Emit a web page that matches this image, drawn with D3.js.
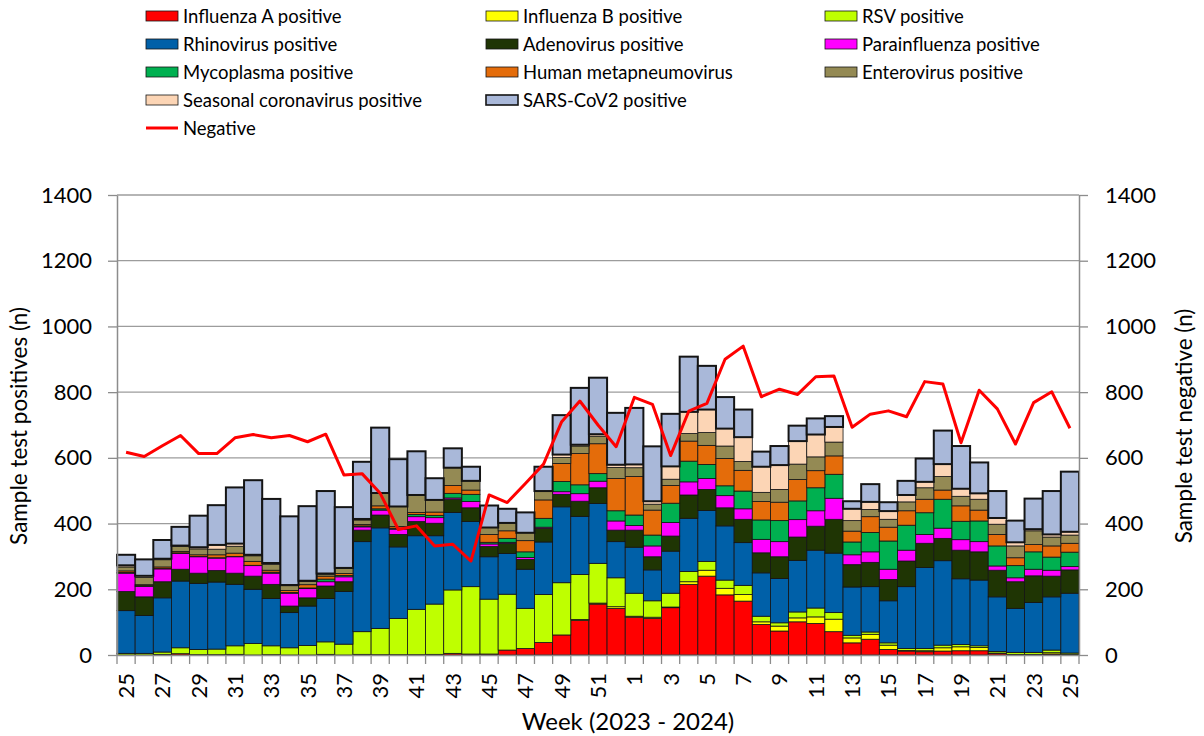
<!DOCTYPE html>
<html>
<head>
<meta charset="utf-8">
<script src="https://cdn.jsdelivr.net/npm/d3@7"></script>
<style>
  body { margin: 0; background: #fff; }
  text { font-family: Lato, "Open Sans", sans-serif; fill: #000; }
</style>
</head>
<body>
<script>
// week labels (2023 wk 25 .. 2024 wk 25)
const weeks = [25, 26, 27, 28, 29, 30, 31, 32, 33, 34, 35, 36, 37, 38, 39, 40, 41, 42, 43, 44,
  45, 46, 47, 48, 49, 50, 51, 52, 1, 2, 3, 4, 5, 6, 7, 8, 9, 10, 11, 12, 13, 14, 15, 16, 17,
  18, 19, 20, 21, 22, 23, 24, 25];

// positives per week, one array per pathogen
const fluA = [0, 0, 2, 4, 1, 1, 2, 0, 1, 0, 0, 2, 0, 2, 1, 1, 1, 2, 5, 3, 3, 15, 20, 38, 61, 105,
  155, 142, 115, 111, 144, 215, 240, 183, 164, 93, 73, 101, 96, 71, 37, 48, 17, 12, 10, 12, 13, 13,
  5, 2, 2, 3, 2];
const fluB = [0, 0, 0, 0, 0, 0, 0, 0, 0, 0, 0, 0, 0, 0, 0, 0, 0, 0, 0, 0, 0, 0, 0, 0, 0, 3,
  3, 5, 3, 4, 2, 8, 18, 20, 20, 8, 15, 12, 20, 38, 15, 15, 13, 2, 3, 10, 12, 10, 1, 0, 0, 4, 0];
const rsv = [5, 5, 7, 18, 16, 17, 26, 35, 27, 22, 29, 38, 33, 69, 80, 110, 138, 153, 193, 205, 167,
  170, 122, 146, 159, 137, 121, 88, 70, 50, 42, 31, 27, 25, 28, 17, 10, 18, 27, 20, 8, 7, 7, 6, 7,
  8, 7, 5, 5, 6, 6, 8, 4];
const rhino = [130, 115, 165, 203, 201, 204, 187, 165, 144, 107, 120, 132, 160, 274, 306, 218, 224,
  208, 236, 198, 129, 124, 119, 160, 231, 177, 182, 110, 140, 94, 128, 162, 155, 165, 130, 132, 135,
  157, 176, 181, 147, 138, 128, 188, 246, 257, 200, 200, 166, 134, 152, 162, 182];
const adeno = [58, 57, 49, 36, 31, 35, 34, 40, 43, 20, 25, 38, 30, 35, 39, 38, 43, 38, 40, 42, 31,
  31, 30, 41, 38, 46, 48, 35, 52, 40, 46, 71, 64, 55, 71, 61, 66, 71, 73, 103, 68, 74, 65, 78, 74,
  68, 87, 86, 81, 81, 81, 63, 71];
const para = [56, 32, 39, 48, 50, 38, 50, 32, 34, 39, 28, 13, 15, 10, 15, 16, 15, 17, 4, 19, 8, 3,
  6, 4, 8, 23, 20, 28, 14, 33, 41, 40, 33, 37, 32, 41, 46, 53, 47, 64, 30, 32, 31, 33, 27, 31, 32,
  31, 13, 12, 20, 18, 10];
const myco = [2, 2, 1, 2, 1, 1, 1, 1, 3, 2, 2, 8, 4, 3, 4, 3, 7, 7, 14, 22, 5, 12, 17, 27, 31, 27,
  23, 31, 32, 33, 59, 63, 43, 30, 54, 59, 64, 57, 70, 73, 39, 59, 86, 76, 66, 88, 56, 63, 61, 37,
  53, 40, 44];
const hmpv = [5, 3, 5, 4, 5, 9, 10, 12, 6, 6, 10, 9, 6, 4, 9, 5, 6, 10, 24, 13, 24, 23, 34, 56, 55,
  95, 91, 98, 117, 76, 54, 61, 58, 83, 63, 56, 56, 65, 52, 56, 33, 48, 42, 44, 41, 28, 47, 33, 35,
  24, 22, 34, 27];
const entero = [12, 22, 22, 15, 18, 17, 21, 17, 18, 15, 10, 6, 15, 14, 38, 61, 53, 37, 54, 28, 21,
  24, 24, 27, 18, 23, 23, 34, 27, 18, 19, 23, 39, 38, 27, 28, 39, 47, 42, 42, 32, 22, 24, 27, 35,
  41, 29, 33, 31, 36, 42, 27, 25];
const corona = [5, 5, 3, 3, 5, 13, 8, 3, 4, 2, 2, 2, 2, 3, 1, 0, 0, 0, 0, 0, 0, 0, 0, 0, 9, 4, 6,
  8, 10, 9, 39, 66, 70, 53, 74, 78, 74, 70, 68, 46, 36, 23, 25, 21, 18, 38, 23, 18, 19, 11, 5, 8, 10];
const sars = [32, 50, 57, 57, 96, 121, 171, 227, 195, 209, 227, 251, 185, 174, 199, 144, 133, 66,
  59, 43, 67, 43, 62, 74, 120, 173, 172, 158, 172, 167, 160, 168, 133, 96, 84, 46, 58, 47, 49, 33,
  23, 54, 27, 43, 71, 102, 130, 94, 82, 66, 93, 132, 183];

// negatives per week (right axis)
const negative = [617, 604, 637, 668, 613, 613, 661, 671, 661, 668, 649, 672, 548, 552, 492, 382,
  393, 332, 337, 286, 487, 464, 522, 581, 710, 773, 700, 634, 784, 763, 607, 742, 766, 900, 940,
  786, 809, 793, 847, 849, 693, 733, 743, 725, 832, 825, 646, 806, 749, 642, 768, 801, 690];

const yTicks = [0, 200, 400, 600, 800, 1000, 1200, 1400];

// series definitions, bottom to top of the stack
const series = [
  { key: "fluA", label: "Influenza A positive", values: fluA, color: "#FF0000" },
  { key: "fluB", label: "Influenza B positive", values: fluB, color: "#FFFF00" },
  { key: "rsv", label: "RSV positive", values: rsv, color: "#BFFF00" },
  { key: "rhino", label: "Rhinovirus positive", values: rhino, color: "#0060A8" },
  { key: "adeno", label: "Adenovirus positive", values: adeno, color: "#1F3504" },
  { key: "para", label: "Parainfluenza positive", values: para, color: "#FF00FF" },
  { key: "myco", label: "Mycoplasma positive", values: myco, color: "#00B050" },
  { key: "hmpv", label: "Human metapneumovirus", values: hmpv, color: "#E46C0A" },
  { key: "entero", label: "Enterovirus positive", values: entero, color: "#948A54" },
  { key: "corona", label: "Seasonal coronavirus positive", values: corona, color: "#FCD5B5" },
  { key: "sars", label: "SARS-CoV2 positive", values: sars, color: "#A9B8D9" }
];

// build table for d3.stack
const table = weeks.map((w, i) => {
  const row = { idx: i };
  series.forEach((s) => { row[s.key] = s.values[i]; });
  return row;
});

const width = 1204;
const height = 736;
const plotLeft = 117, plotRight = 1079, plotTop = 195, plotBottom = 655;

const svg = d3.select("body")
  .append("svg")
  .attr("width", width)
  .attr("height", height);

svg.append("rect")
  .attr("width", width)
  .attr("height", height)
  .style("fill", "#fff");

const x = d3.scaleBand()
  .domain(d3.range(weeks.length))
  .range([plotLeft, plotRight])
  .padding(0);

const y = d3.scaleLinear()
  .domain([0, 1400])
  .range([plotBottom, plotTop]);

const yNeg = d3.scaleLinear()
  .domain([0, 1400])
  .range([plotBottom, plotTop]);

// gridlines
svg.append("g")
  .selectAll("line")
  .data(yTicks.slice(1))
  .enter()
  .append("line")
  .attr("x1", plotLeft)
  .attr("x2", plotRight)
  .attr("y1", (d) => y(d))
  .attr("y2", (d) => y(d))
  .style("stroke", "#9c9c9c")
  .style("stroke-width", 1.3);

// stacked bars
const stack = d3.stack().keys(series.map((s) => s.key));
const layers = stack(table);

const layerG = svg.append("g")
  .selectAll("g")
  .data(layers)
  .enter()
  .append("g")
  .style("fill", (d, i) => series[i].color);

layerG.selectAll("rect")
  .data((d) => d)
  .enter()
  .append("rect")
  .attr("x", (d) => x(d.data.idx))
  .attr("width", x.bandwidth())
  .attr("y", (d) => y(d[1]))
  .attr("height", (d) => y(d[0]) - y(d[1]))
  .style("stroke", "#141414")
  .style("stroke-width", function () {
    return d3.select(this.parentNode).datum().key === "sars" ? 2 : 0.8;
  });

// negative line
const line = d3.line()
  .x((d, i) => x(i) + x.bandwidth() / 2)
  .y((d) => yNeg(d));

svg.append("path")
  .datum(negative)
  .attr("d", line)
  .style("fill", "none")
  .style("stroke", "#FF0000")
  .style("stroke-width", 3)
  .style("stroke-linejoin", "round");

// axis styling helper
function styleAxis(g) {
  g.select(".domain").style("stroke", "#8c8c8c").style("stroke-width", 1.5);
  g.selectAll(".tick line").style("stroke", "#8c8c8c").style("stroke-width", 1.3);
  g.selectAll("text").style("font-family", "Lato, 'Open Sans', sans-serif").style("fill", "#000");
}

const plain = d3.format("d");

// left axis
const yAxisL = svg.append("g")
  .attr("transform", `translate(${plotLeft},0)`)
  .call(d3.axisLeft(y).tickValues(yTicks).tickFormat(plain)
    .tickSize(9).tickSizeOuter(0).tickPadding(16));
styleAxis(yAxisL);
yAxisL.selectAll("text").style("font-size", "22px");

// right axis
const yAxisR = svg.append("g")
  .attr("transform", `translate(${plotRight},0)`)
  .call(d3.axisRight(yNeg).tickValues(yTicks).tickFormat(plain)
    .tickSize(9).tickSizeOuter(0).tickPadding(17));
styleAxis(yAxisR);
yAxisR.selectAll("text").style("font-size", "22px");

// bottom axis: labels every other week, ticks between bars
const xAxis = svg.append("g")
  .attr("transform", `translate(0,${plotBottom})`)
  .call(d3.axisBottom(x)
    .tickSize(0)
    .tickSizeOuter(0)
    .tickFormat((d, i) => (i % 2 === 0 ? weeks[i] : "")));
styleAxis(xAxis);
xAxis.selectAll("text")
  .attr("transform", "rotate(-90)")
  .attr("x", -18)
  .attr("y", 0)
  .attr("dy", "0.36em")
  .style("text-anchor", "end")
  .style("font-size", "22px");

xAxis.selectAll(".sep")
  .data(d3.range(weeks.length + 1))
  .enter()
  .append("line")
  .attr("class", "sep")
  .attr("x1", (d) => (d < weeks.length ? x(d) : plotRight))
  .attr("x2", (d) => (d < weeks.length ? x(d) : plotRight))
  .attr("y1", 0)
  .attr("y2", 9)
  .style("stroke", "#8c8c8c")
  .style("stroke-width", 1.3);

// axis titles
svg.append("text")
  .attr("transform", "translate(19,426) rotate(-90)")
  .attr("text-anchor", "middle")
  .attr("dy", "0.35em")
  .style("font-size", "22.5px")
  .text("Sample test positives (n)");

svg.append("text")
  .attr("transform", "translate(1184,426) rotate(-90)")
  .attr("text-anchor", "middle")
  .attr("dy", "0.35em")
  .style("font-size", "22.5px")
  .text("Sample test negative (n)");

svg.append("text")
  .attr("x", 628)
  .attr("y", 730)
  .attr("text-anchor", "middle")
  .style("font-size", "24px")
  .text("Week (2023 - 2024)");

// legend: three columns, "Negative" alone on the last row
const legendItems = series.map((s) => ({ label: s.label, color: s.color, key: s.key }));
legendItems.push({ label: "Negative", color: "#FF0000", key: "neg" });
const colX = [146, 486, 825];
const slot = (i) => (i === series.length ? 12 : i);

const legend = svg.selectAll(".legend")
  .data(legendItems)
  .enter()
  .append("g")
  .attr("class", "legend")
  .attr("transform", (d, i) =>
    `translate(${colX[slot(i) % 3]},${16 + Math.floor(slot(i) / 3) * 28})`);

legend.filter((d) => d.key !== "neg")
  .append("rect")
  .attr("x", 0)
  .attr("y", -5)
  .attr("width", 32)
  .attr("height", 10)
  .style("fill", (d) => d.color)
  .style("stroke", "#141414")
  .style("stroke-width", (d) => (d.key === "sars" ? 1.6 : 0.8));

legend.filter((d) => d.key === "neg")
  .append("line")
  .attr("x1", 0)
  .attr("x2", 32)
  .style("stroke", "#FF0000")
  .style("stroke-width", 3);

legend.append("text")
  .attr("x", 37)
  .attr("dy", "0.36em")
  .style("font-size", "18.5px")
  .text((d) => d.label);
</script>
</body>
</html>
